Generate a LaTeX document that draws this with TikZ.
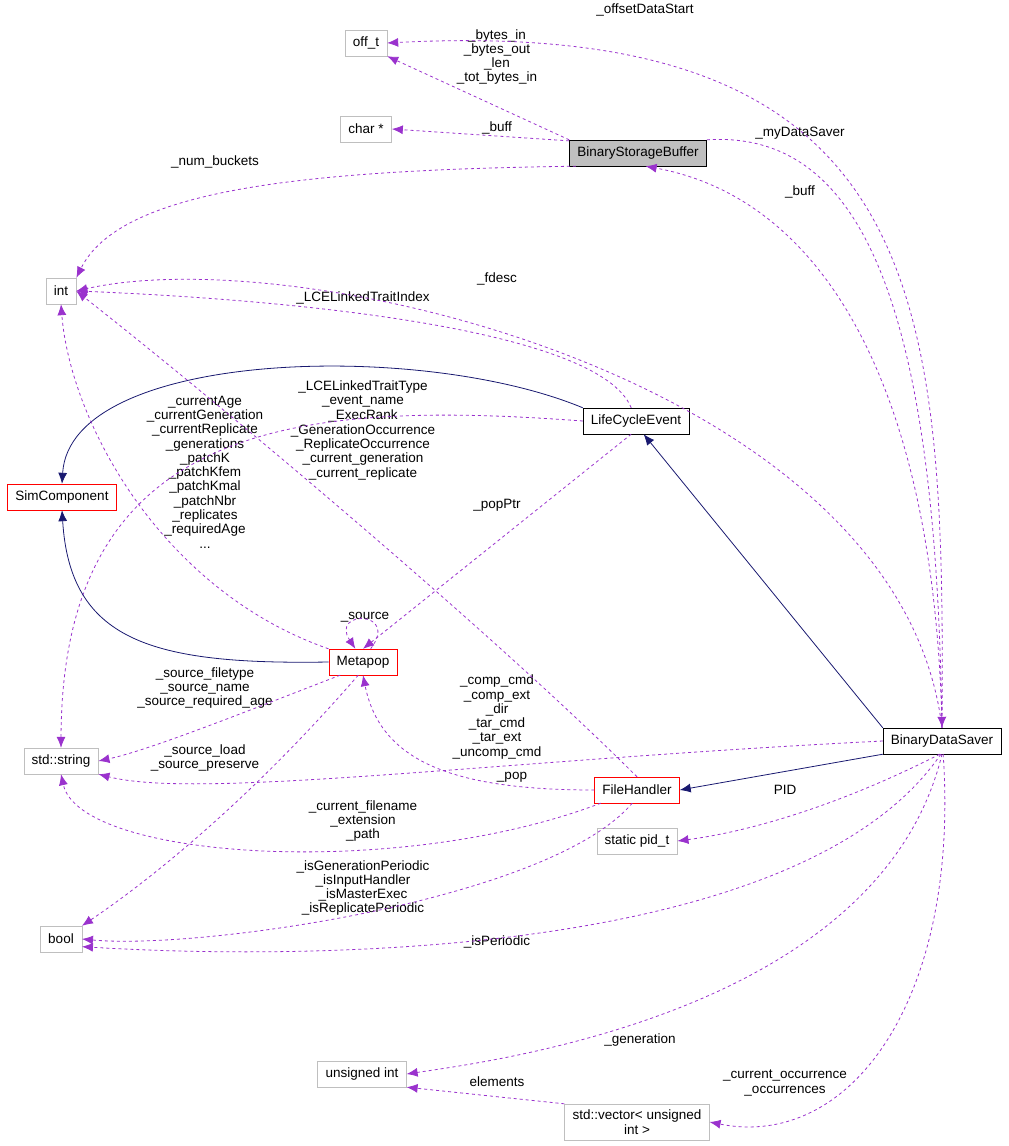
\documentclass[tikz,border=0pt]{standalone}
\usepackage{fontspec}
\setmainfont{Liberation Sans}
\usetikzlibrary{arrows.meta}
\definecolor{purp}{HTML}{9A32CD}
\definecolor{navy}{HTML}{191970}
\definecolor{gbord}{HTML}{BFBFBF}
\begin{document}
\begin{tikzpicture}[x=1pt,y=-1pt,
 every node/.style={font=\fontsize{13.5}{14.3}\selectfont},
 box/.style={draw=gbord,fill=white,rectangle,inner xsep=8pt,minimum height=26pt,align=center},
 bbox/.style={box,draw=black},
 rbox/.style={box,draw=red},
 lbl/.style={align=center,inner sep=1pt},
 dep/.style={draw=purp,dashed,thick,-{Latex[length=11pt,width=9pt]}},
 inh/.style={draw=navy,thick,-{Latex[length=11pt,width=9pt]}}]
\useasboundingbox (0,0) rectangle (1009,1146);
\node[box] (offt) at (366,43) {off\_t};
\node[box] (chr) at (366,129) {char *};
\node[bbox,fill=gbord] (bsb) at (638,153) {BinaryStorageBuffer};
\node[box] (int) at (61,291) {int};
\node[bbox] (lce) at (636,421) {LifeCycleEvent};
\node[rbox] (simc) at (62,497) {SimComponent};
\node[rbox] (meta) at (363,662) {Metapop};
\node[box] (str) at (61,761) {std::string};
\node[bbox] (bds) at (942,741) {BinaryDataSaver};
\node[rbox] (fh) at (637,790) {FileHandler};
\node[box] (pid) at (637,841) {static pid\_t};
\node[box] (bool) at (61,939) {bool};
\node[box] (uint) at (362,1074) {unsigned int};
\node[box,minimum height=36pt,inner ysep=2pt] (vec) at (637,1122) {std::vector\textless{} unsigned\\int \textgreater{}};

% labels
\node[lbl] (l1) at (497,57) {\_bytes\_in\\\_bytes\_out\\\_len\\\_tot\_bytes\_in};
\node[lbl] (l2) at (497,128) {\_buff};
\node[lbl] (l3) at (215,162) {\_num\_buckets};
\node[lbl] (l4) at (645,10) {\_offsetDataStart};
\node[lbl] (l5) at (800,133) {\_myDataSaver};
\node[lbl] (l6) at (800,192) {\_buff};
\node[lbl] (l7) at (497,279) {\_fdesc};
\node[lbl] (l8) at (363,298) {\_LCELinkedTraitIndex};
\node[lbl] (l9) at (363,394) {\_LCELinkedTraitType\\\_event\_name};
\node[lbl] (l10) at (497,505) {\_popPtr};
\node[lbl] (l11) at (205,472) {\_currentAge\\\_currentGeneration\\\_currentReplicate\\\_generations\\\_patchK\\\_patchKfem\\\_patchKmal\\\_patchNbr\\\_replicates\\\_requiredAge\\...};
\node[lbl] (l12) at (363,445) {\_ExecRank\\\_GenerationOccurrence\\\_ReplicateOccurrence\\\_current\_generation\\\_current\_replicate};
\node[lbl] (l13) at (365,617) {\_source};
\node[lbl] (l14) at (205,688) {\_source\_filetype\\\_source\_name\\\_source\_required\_age};
\node[lbl] (l15) at (205,758) {\_source\_load\\\_source\_preserve};
\node[lbl] (l16) at (497,717) {\_comp\_cmd\\\_comp\_ext\\\_dir\\\_tar\_cmd\\\_tar\_ext\\\_uncomp\_cmd};
\node[lbl] (l17) at (512,777) {\_pop};
\node[lbl] (l18) at (363,821) {\_current\_filename\\\_extension\\\_path};
\node[lbl] (l19) at (363,888) {\_isGenerationPeriodic\\\_isInputHandler\\\_isMasterExec\\\_isReplicatePeriodic};
\node[lbl] (l20) at (785,790) {PID};
\node[lbl] (l21) at (497,942) {\_isPeriodic};
\node[lbl] (l22) at (640,1040) {\_generation};
\node[lbl] (l23) at (785,1083) {\_current\_occurrence\\\_occurrences};
\node[lbl] (l24) at (497,1082) {elements};

% connectors
\draw[dep] (bsb.north west) -- (offt.south east);
\draw[dep] (bsb.170) -- (chr.east);
\draw[dep] (bsb.192) .. controls (300,170) and (120,190) .. (int.north east);
\draw[dep] (bds.north) .. controls (945,300) and (930,15) .. (offt.east);
\draw[dep] (bsb.north east) .. controls (860,130) and (935,300) .. (bds.north);
\draw[dep] (bds.north) .. controls (935,400) and (830,200) .. (bsb.-60);
\draw[dep] (bds.north) .. controls (900,380) and (300,240) .. (int.east);
\draw[dep] (lce.110) .. controls (600,330) and (300,300) .. (int.east);
\draw[dep] (lce.west) .. controls (300,400) and (62,420) .. (str.north);
\draw[dep] (lce.250) -- (meta.north);
\draw[inh] (lce.north west) .. controls (420,340) and (70,350) .. (simc.north);
\draw[inh] (meta.west) .. controls (150,665) and (70,640) .. (simc.south);
\draw[dep] (meta.north west) .. controls (160,590) and (70,420) .. (int.south);
\draw[dep] (fh.north) .. controls (500,640) and (240,420) .. (int.east);
\draw[dep] (meta.60) .. controls (400,610) and (330,610) .. (meta.120);
\draw[dep] (meta.210) .. controls (250,710) and (150,750) .. (str.east);
\draw[dep] (meta.250) .. controls (250,800) and (150,880) .. (bool.north east);
\draw[dep] (bds.west) .. controls (500,760) and (200,800) .. (str.south east);
\draw[dep] (fh.west) .. controls (450,790) and (380,760) .. (meta.south);
\draw[dep] (fh.200) .. controls (400,880) and (80,860) .. (str.south);
\draw[dep] (fh.250) .. controls (550,900) and (200,950) .. (bool.east);
\draw[inh] (bds.south west) -- (fh.east);
\draw[inh] (bds.north west) -- (lce.300);
\draw[dep] (bds.260) .. controls (850,800) and (760,830) .. (pid.east);
\draw[dep] (bds.265) .. controls (800,960) and (300,960) .. (bool.-20);
\draw[dep] (bds.270) .. controls (880,1010) and (500,1060) .. (uint.east);
\draw[dep] (bds.275) .. controls (960,1000) and (850,1150) .. (vec.east);
\draw[dep] (vec.north west) -- (uint.south east);
\end{tikzpicture}
\end{document}
